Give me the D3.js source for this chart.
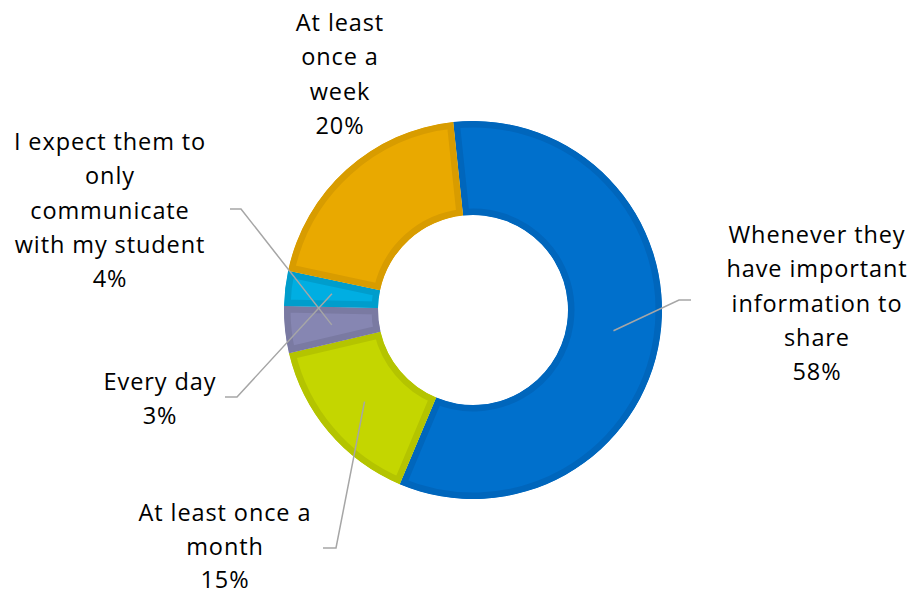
<!DOCTYPE html>
<html>
<head>
<meta charset="utf-8">
<script src="https://cdn.jsdelivr.net/npm/d3@7"></script>
<style>
  html, body { margin: 0; padding: 0; background: #ffffff; }
  svg { display: block; }
  text { font-family: "Open Sans", "Noto Sans", sans-serif; fill: #000; }
</style>
</head>
<body>
<svg id="chart" width="915" height="595"></svg>
<script>
// Survey answers: how often should the school communicate with parents
const categories = [
  "Whenever they have important information to share",
  "At least once a month",
  "I expect them to only communicate with my student",
  "Every day",
  "At least once a week"
];
const values = [58, 15, 4, 3, 20];
const percentLabels = ["58%", "15%", "4%", "3%", "20%"];

// Label text broken into lines
const labelLines = [
  ["Whenever they", "have important", "information to", "share"],
  ["At least once a", "month"],
  ["I expect them to", "only", "communicate", "with my student"],
  ["Every day"],
  ["At least", "once a", "week"]
];

// Slice colours: fill and darker inset border
const fills   = ["#0070CC", "#C4D600", "#8686B2", "#00AEE2", "#E9A900"];
const borders = ["#0066BC", "#B4C400", "#7A7AA2", "#009DCC", "#D89C00"];

// Label placement: centre x, first baseline, and leader start/elbow (null = no leader)
const labelLayout = [
  { x: 817, y: 243, lead: [[691, 300], [679, 300]] },
  { x: 225, y: 521, lead: [[323, 548], [336, 548]] },
  { x: 110, y: 150, lead: [[230, 209], [241, 209]] },
  { x: 160, y: 390, lead: [[225, 397], [237, 397]] },
  { x: 340, y: 31,  lead: null }
];

const width = 915, height = 595;
const cx = 473, cy = 310;
const outerR = 189, innerR = 95;
const borderW = 6.5;
const lineH = 34.3;

const svg = d3.select("#chart");

const pie = d3.pie()
  .sort(null)
  .value(d => d.value)
  .startAngle(-6 * Math.PI / 180)
  .endAngle(354 * Math.PI / 180);

const rows = categories.map((c, i) => ({ name: c, value: values[i], i }));
const arcs = pie(rows);

const arc = d3.arc().innerRadius(innerR).outerRadius(outerR);

const defs = svg.append("defs");
const g = svg.append("g").attr("transform", `translate(${cx},${cy})`);

// each slice is clipped to itself so the stroke reads as an inner border
arcs.forEach((a, k) => {
  defs.append("clipPath").attr("id", "slice-clip-" + k)
    .append("path").attr("d", arc(a));
});

g.selectAll("path.slice")
  .data(arcs)
  .join("path")
  .attr("class", "slice")
  .attr("d", arc)
  .attr("fill", d => fills[d.data.i])
  .attr("stroke", d => borders[d.data.i])
  .attr("stroke-width", borderW * 2)
  .attr("stroke-linejoin", "miter")
  .attr("clip-path", (d, k) => `url(#slice-clip-${k})`);

// leader lines from label to slice centroid
arcs.forEach(a => {
  const L = labelLayout[a.data.i];
  if (!L.lead) return;
  const c = arc.centroid(a);
  const pts = [L.lead[0], L.lead[1], [c[0] + cx, c[1] + cy]];
  svg.append("path")
    .attr("d", d3.line()(pts))
    .attr("fill", "none")
    .attr("stroke", "#A6A6A6")
    .attr("stroke-width", 1.5);
});

// data labels: category name lines followed by the percentage
arcs.forEach(a => {
  const i = a.data.i;
  const L = labelLayout[i];
  const lines = labelLines[i].concat([percentLabels[i]]);
  const t = svg.append("text")
    .attr("text-anchor", "middle")
    .attr("font-size", 23.5)
    .attr("letter-spacing", 0.9);
  lines.forEach((ln, j) => {
    t.append("tspan")
      .attr("x", L.x)
      .attr("y", L.y + j * (i === 1 ? 33.6 : lineH))
      .text(ln);
  });
});
</script>
</body>
</html>
